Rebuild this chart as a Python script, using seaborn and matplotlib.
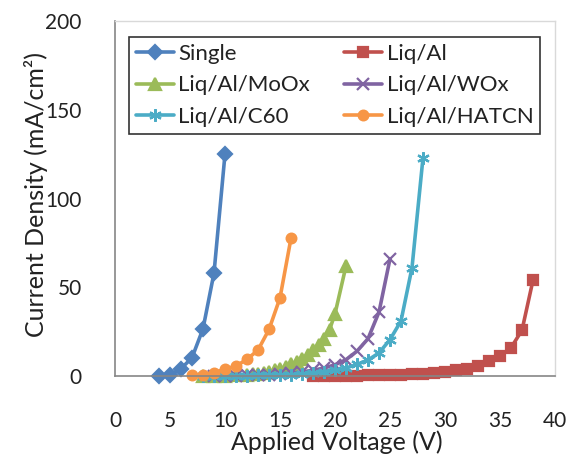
import matplotlib
matplotlib.use("Agg")
import matplotlib.pyplot as plt
import pandas as pd
import seaborn as sns

# J-V data (V in volts, J in mA/cm2)
single_v = [4, 5, 6, 7, 8, 9, 10]
single_j = [0, 0.5, 4.1, 10.3, 26.6, 58, 125]

liqal_v = list(range(18, 39))
liqal_j = [0, 0, 0.1, 0.1, 0.2, 0.3, 0.45, 0.6, 0.8, 1.1, 1.4, 1.8, 2.4,
           3.2, 4.2, 5.6, 8.4, 11.2, 15.9, 25.8, 54]

moox_v = [8, 9, 10, 11, 12, 12.5, 13, 13.5, 14, 14.5, 15, 15.5, 16, 16.5,
          17, 17.5, 18, 18.5, 19, 19.5, 20, 21]
moox_j = [0, 0.1, 0.2, 0.4, 0.7, 1.0, 1.4, 1.9, 2.5, 3.2, 4.1, 5.2, 6.5,
          8, 9.8, 12, 14.5, 17.5, 21, 26, 35, 62]

woox_v = list(range(9, 26))
woox_j = [0, 0.1, 0.2, 0.3, 0.5, 0.8, 1.1, 1.6, 2.3, 3.2, 4.5, 6.3, 9.2,
          14, 21, 36, 66]

c60_v = list(range(8, 29))
c60_j = [0, 0, 0.1, 0.1, 0.2, 0.3, 0.4, 0.6, 0.8, 1.1, 1.6, 2.3, 3.2, 4.5,
         6.5, 9, 13, 20.5, 31, 61, 123]

hatcn_v = list(range(7, 17))
hatcn_j = [0.3, 0.8, 1.8, 3.8, 5.6, 9.4, 14.6, 26.2, 44, 77.6]

labels = ["Single", "Liq/Al", "Liq/Al/MoOx", "Liq/Al/WOx", "Liq/Al/C60", "Liq/Al/HATCN"]
colors = ["#4F81BD", "#C0504D", "#9BBB59", "#8064A2", "#4BACC6", "#F79646"]
markers = ["D", "s", "^", "x", (6, 2, 0), "o"]
msizes = [7, 7, 8, 8, 9, 7]

series = [(single_v, single_j), (liqal_v, liqal_j), (moox_v, moox_j),
          (woox_v, woox_j), (c60_v, c60_j), (hatcn_v, hatcn_j)]

sns.set_style("white")
plt.rcParams["font.family"] = ["Lato", "DejaVu Sans"]

fig = plt.figure(figsize=(5.79, 4.68), dpi=100)
ax = fig.add_axes([115 / 579, 1 - 376 / 468, 440 / 579, 355 / 468])

# seaborn won't mix filled and line-art markers in one style map,
# so draw each device on its own
for name, (v, j), c, m, ms in zip(labels, series, colors, markers, msizes):
    d = pd.DataFrame({"V": v, "J": j})
    sns.lineplot(data=d, x="V", y="J", color=c, marker=m, markersize=ms,
                 markeredgecolor=c, markeredgewidth=1.6, linewidth=2.6,
                 estimator=None, sort=False, ax=ax, clip_on=False, label=name)

ax.set_xlim(0, 40)
ax.set_ylim(0, 200)
ax.set_xticks(range(0, 41, 5))
ax.set_yticks(range(0, 201, 50))
ax.tick_params(direction="in", length=5, width=1, color="#868686",
               labelsize=15, labelcolor="#222222")
ax.tick_params(axis="y", pad=24)
ax.tick_params(axis="x", pad=25)
for side in ["left", "bottom"]:
    ax.spines[side].set_color("#868686")
    ax.spines[side].set_linewidth(1.2)
for side in ["top", "right"]:
    ax.spines[side].set_color("#D9D9D9")
    ax.spines[side].set_linewidth(1)

ax.set_xlabel("Applied Voltage (V)", fontsize=18, color="#222222")
ax.set_ylabel("Current Density (mA/cm²)", fontsize=18, color="#222222")
ax.xaxis.set_label_coords(0.503, -0.152)
ax.yaxis.set_label_coords(-0.152, 0.51)

# row-major legend in 2 columns: reorder to column-major for matplotlib
handles, names = ax.get_legend_handles_labels()
order = [0, 2, 4, 1, 3, 5]
leg = ax.legend([handles[i] for i in order], [names[i] for i in order],
                ncol=2, loc="upper left", mode="expand",
                bbox_to_anchor=(0.032, 0.955, 0.934, 0.0),
                fontsize=16, frameon=True, fancybox=False, edgecolor="black",
                handlelength=1.7, handletextpad=0.2, labelspacing=0.53,
                borderpad=0.3, borderaxespad=0, columnspacing=1.0)
leg.get_frame().set_linewidth(1.2)
for t in leg.get_texts():
    t.set_color("#222222")

fig.savefig("out.png", dpi=100)
